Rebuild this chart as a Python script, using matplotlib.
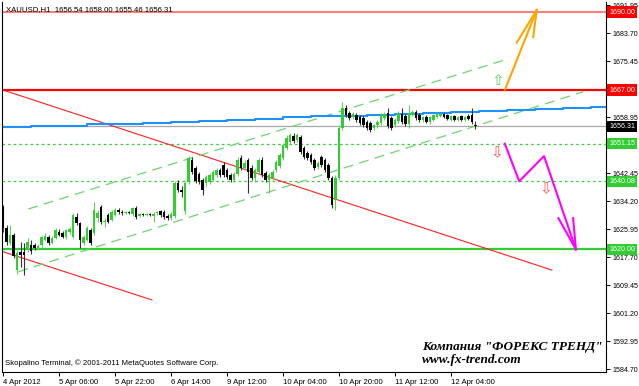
import matplotlib
matplotlib.use("Agg")
import matplotlib.pyplot as plt
import matplotlib.transforms as mtransforms

# XAUUSD H1 candles, 4 Apr 2012 -> 12 Apr 2012
o = [1632.5, 1626.3, 1621.9, 1624.2, 1613.9, 1619.2, 1619.2, 1619.8, 1621.3, 1621.3,
     1620.4, 1621.3, 1622.8, 1623.6, 1621.9, 1623.4, 1625.1, 1624.8, 1623.6, 1625.1,
     1623.6, 1629.5, 1627.8, 1621.9, 1622.8, 1625.7, 1624.8, 1629.3, 1632.5, 1628.1,
     1630.1, 1628.7, 1630.1, 1631.6, 1631.0, 1630.7, 1631.0, 1630.4, 1632.2, 1629.8,
     1630.4, 1630.1, 1630.4, 1629.8, 1630.7, 1631.3, 1631.0, 1629.8, 1629.3, 1629.8,
     1639.6, 1637.5, 1631.3, 1639.9, 1646.4, 1644.0, 1642.2, 1640.5, 1639.6, 1639.9,
     1640.5, 1641.9, 1643.4, 1644.9, 1643.4, 1641.9, 1640.5, 1642.2, 1646.9, 1644.0,
     1646.4, 1644.0, 1641.1, 1642.8, 1646.4, 1642.5, 1640.5, 1641.1, 1643.4, 1644.6,
     1646.9, 1649.9, 1651.7, 1653.4, 1652.3, 1653.1, 1649.9, 1648.4, 1647.8, 1646.4,
     1644.3, 1647.2, 1646.4, 1644.9, 1641.1, 1634.6, 1641.1, 1655.8, 1661.7, 1660.2,
     1659.1, 1659.6, 1659.1, 1658.8, 1657.6, 1657.3, 1655.8, 1656.7, 1657.3, 1658.8,
     1660.2, 1658.8, 1656.7, 1657.9, 1659.9, 1659.3, 1657.0, 1659.6, 1660.5, 1659.6,
     1658.2, 1659.1, 1657.6, 1658.2, 1659.1, 1659.3, 1659.9, 1659.6, 1658.2, 1659.3,
     1658.2, 1659.3, 1658.2, 1659.3, 1659.6, 1656.54]
h = [1633.1, 1627.2, 1627.2, 1624.8, 1619.8, 1622.2, 1621.9, 1623.4, 1622.8, 1621.9,
     1621.6, 1623.9, 1624.8, 1624.2, 1623.9, 1626.3, 1626.0, 1625.4, 1626.0, 1626.6,
     1630.7, 1630.7, 1628.1, 1624.2, 1626.9, 1626.3, 1634.0, 1631.6, 1633.1, 1629.3,
     1630.7, 1631.6, 1632.2, 1632.2, 1631.6, 1631.3, 1631.3, 1632.5, 1632.8, 1630.7,
     1630.7, 1630.7, 1630.7, 1631.0, 1631.3, 1631.6, 1631.6, 1630.4, 1631.0, 1640.2,
     1640.5, 1638.7, 1640.2, 1647.5, 1647.2, 1644.6, 1642.8, 1641.1, 1641.9, 1642.5,
     1643.4, 1644.0, 1644.0, 1645.8, 1644.0, 1642.5, 1642.8, 1647.2, 1647.8, 1646.4,
     1646.9, 1644.9, 1644.0, 1646.9, 1647.2, 1643.1, 1642.5, 1643.4, 1646.4, 1648.4,
     1651.4, 1653.7, 1654.3, 1654.3, 1654.3, 1653.7, 1650.5, 1649.0, 1648.4, 1646.9,
     1646.1, 1647.8, 1646.9, 1645.5, 1641.6, 1641.9, 1656.7, 1663.5, 1662.6, 1660.8,
     1660.5, 1660.2, 1659.6, 1659.3, 1658.2, 1657.9, 1657.0, 1658.2, 1660.2, 1660.5,
     1661.7, 1659.3, 1658.8, 1660.8, 1661.7, 1659.9, 1662.6, 1661.1, 1661.1, 1660.2,
     1659.3, 1659.6, 1659.3, 1659.9, 1660.2, 1660.2, 1660.2, 1659.9, 1659.6, 1659.6,
     1659.3, 1659.6, 1659.3, 1659.9, 1661.7, 1658.00]
l = [1625.1, 1621.3, 1621.3, 1617.5, 1612.7, 1614.8, 1612.4, 1619.2, 1618.6, 1619.8,
     1619.8, 1620.7, 1622.5, 1621.3, 1621.6, 1623.1, 1623.9, 1623.4, 1623.1, 1624.5,
     1623.4, 1627.2, 1620.4, 1621.3, 1622.5, 1621.3, 1624.2, 1628.1, 1627.5, 1626.6,
     1627.8, 1628.4, 1629.8, 1630.4, 1630.1, 1630.4, 1630.4, 1629.8, 1629.0, 1629.5,
     1629.8, 1629.8, 1629.8, 1628.1, 1630.1, 1629.5, 1629.0, 1628.7, 1628.7, 1629.3,
     1636.9, 1635.4, 1630.4, 1639.3, 1642.2, 1639.6, 1639.3, 1636.0, 1638.7, 1639.3,
     1640.2, 1641.3, 1641.3, 1641.3, 1640.7, 1639.9, 1639.9, 1641.6, 1643.4, 1643.4,
     1636.6, 1640.5, 1639.9, 1642.2, 1641.3, 1639.9, 1636.6, 1640.5, 1642.8, 1644.0,
     1646.4, 1649.3, 1651.1, 1651.4, 1651.7, 1648.1, 1646.7, 1646.4, 1645.2, 1643.4,
     1643.7, 1644.3, 1642.8, 1640.5, 1632.2, 1631.6, 1640.5, 1655.2, 1659.1, 1658.2,
     1658.5, 1657.6, 1656.7, 1656.1, 1655.2, 1654.6, 1655.2, 1655.8, 1656.7, 1658.2,
     1655.8, 1655.2, 1656.1, 1657.3, 1657.0, 1656.4, 1655.8, 1659.3, 1658.2, 1657.6,
     1657.6, 1657.3, 1657.0, 1657.9, 1658.8, 1659.1, 1658.8, 1658.2, 1657.9, 1657.9,
     1657.9, 1657.9, 1657.9, 1658.2, 1657.0, 1655.46]
c = [1626.3, 1622.2, 1624.2, 1618.0, 1618.9, 1618.3, 1618.3, 1622.2, 1619.5, 1620.4,
     1621.0, 1623.6, 1623.9, 1621.9, 1623.4, 1625.7, 1624.2, 1623.6, 1625.7, 1626.0,
     1630.1, 1627.8, 1622.8, 1623.6, 1626.3, 1621.9, 1631.6, 1630.7, 1628.1, 1628.4,
     1628.1, 1631.0, 1631.6, 1631.0, 1630.7, 1631.0, 1630.7, 1632.2, 1629.5, 1630.4,
     1630.1, 1630.4, 1630.1, 1630.4, 1631.0, 1630.1, 1629.5, 1629.3, 1630.4, 1639.6,
     1637.5, 1636.9, 1639.6, 1646.9, 1642.8, 1640.2, 1639.9, 1637.5, 1641.3, 1641.9,
     1642.8, 1643.4, 1641.9, 1641.9, 1641.3, 1640.5, 1642.2, 1646.4, 1644.0, 1645.5,
     1642.8, 1641.1, 1643.4, 1646.4, 1641.9, 1640.5, 1641.9, 1642.8, 1645.8, 1647.8,
     1650.8, 1652.9, 1653.7, 1652.0, 1653.7, 1648.7, 1647.2, 1646.9, 1645.8, 1644.0,
     1645.5, 1644.9, 1643.4, 1641.1, 1633.1, 1641.1, 1655.8, 1661.7, 1659.6, 1658.8,
     1659.9, 1658.2, 1657.3, 1656.7, 1655.8, 1655.2, 1656.7, 1657.6, 1659.6, 1659.9,
     1656.4, 1655.8, 1658.2, 1660.2, 1657.6, 1657.0, 1660.2, 1660.5, 1658.8, 1658.2,
     1659.1, 1657.6, 1659.1, 1659.6, 1659.9, 1659.9, 1659.1, 1658.5, 1659.3, 1658.2,
     1659.1, 1658.2, 1659.1, 1658.5, 1657.6, 1656.31]

# blue moving line (bar index, price)
blue_x = [0, 8, 16, 24, 32, 40, 48, 56, 64, 72, 80, 88, 96, 104, 112, 120, 128,
          136, 144, 152, 160, 168, 173]
blue_y = [1656.0, 1656.3, 1656.5, 1656.9, 1657.1, 1657.4, 1657.7, 1658.0, 1658.3,
          1658.6, 1658.9, 1659.2, 1659.4, 1659.7, 1660.0, 1660.3, 1660.6, 1660.9,
          1661.2, 1661.5, 1661.8, 1662.1, 1662.3]

# x axis labels every 16 bars
xtick_idx = [0, 16, 32, 48, 64, 80, 96, 112, 128]
xtick_lbl = ["4 Apr 2012", "5 Apr 06:00", "5 Apr 22:00", "6 Apr 14:00", "9 Apr 12:00",
             "10 Apr 04:00", "10 Apr 20:00", "11 Apr 12:00", "12 Apr 04:00"]
ytick_vals = [1691.95, 1683.70, 1675.45, 1658.95, 1642.45, 1634.20, 1625.95,
              1617.70, 1609.45, 1601.20, 1592.95, 1584.70]

# trend lines: (x0, y0, x1, y1)
red_trend = [0, 1667.0, 156.8, 1613.9]
red_trend2 = [0, 1619.3, 42.5, 1605.1]
chan_up = [7.2, 1631.9, 142.8, 1675.7]
chan_lo = [4.4, 1613.4, 165.8, 1666.5]

orange_x = [143.4, 152.5]
orange_y = [1667.0, 1690.6]
orange_barbs = [(146.8, 1681.0), (151.5, 1682.6)]
magenta_x = [143.4, 147.5, 154.6, 163.7]
magenta_y = [1651.15, 1640.08, 1647.5, 1620.0]
magenta_barbs = [(158.7, 1629.2), (162.9, 1629.2)]

levels = [1690.00, 1667.00, 1656.31, 1651.15, 1640.08, 1620.00]
level_col = ["#ff0000", "#ff0000", "#000000", "#32cd32", "#32cd32", "#32cd32"]

plt.rcParams['font.family'] = ['Liberation Sans', 'DejaVu Sans']

fig = plt.figure(figsize=(6.39, 3.86), dpi=100)
ax = fig.add_axes([2 / 639, 14 / 386, 604 / 639, 370 / 386])
ax.set_xlim(-0.3, 172.3)
ax.set_ylim(1583.82, 1692.97)

# horizontal levels
ax.axhline(1690.00, color="#ff7f7f", lw=1.5, zorder=1)
ax.axhline(1667.00, color="#ff0000", lw=1.6, zorder=1)
ax.axhline(1656.31, color="#a8a8a8", lw=0.9, zorder=1)
ax.axhline(1651.15, color="#32cd32", lw=0.9, ls=(0, (2, 2.5)), zorder=1)
ax.axhline(1640.08, color="#32cd32", lw=0.9, ls=(0, (2, 2.5)), zorder=1)
ax.axhline(1620.00, color="#32cd32", lw=1.6, zorder=1)

# trend lines and channel
for ln in [red_trend, red_trend2]:
    ax.plot([ln[0], ln[2]], [ln[1], ln[3]], color="#ff2020", lw=0.8, zorder=2)
for ln in [chan_up, chan_lo]:
    ax.plot([ln[0], ln[2]], [ln[1], ln[3]], color="#6ed66e", lw=0.9,
            ls=(0, (8, 5)), zorder=2)

ax.plot(blue_x, blue_y, color="#1e90ff", lw=1.5, drawstyle="steps-post", zorder=2)

# candles
idx = list(range(len(c)))
up = [ci >= oi for oi, ci in zip(o, c)]
wick_col = ["#66cc66" if u else "#333333" for u in up]
body_col = ["#32cd32" if u else "#000000" for u in up]
ax.vlines(idx, l, h, colors=wick_col, lw=0.8, zorder=3)
ax.bar(idx, [max(abs(ci - oi), 0.3) for oi, ci in zip(o, c)],
       bottom=[min(oi, ci) for oi, ci in zip(o, c)],
       width=0.75, color=body_col, linewidth=0, zorder=4)

# forecast arrows
ax.plot(orange_x, orange_y, color="#ffa500", lw=1.5, zorder=5)
for bx, by in orange_barbs:
    ax.plot([bx, orange_x[-1]], [by, orange_y[-1]], color="#ffa500", lw=1.5, zorder=5)
ax.plot(magenta_x, magenta_y, color="#ff00ff", lw=1.5, zorder=5)
for bx, by in magenta_barbs:
    ax.plot([bx, magenta_x[-1]], [by, magenta_y[-1]], color="#ff00ff", lw=1.5, zorder=5)

ax.text(141.5, 1669.9, "\u21e7", color="#5fcf5f", fontsize=11, ha="center",
        va="center", family="DejaVu Sans", zorder=5)
ax.text(141.1, 1648.5, "\u21e9", color="#ff5050", fontsize=11, ha="center",
        va="center", family="DejaVu Sans", zorder=5)
ax.text(155.1, 1637.8, "\u21e9", color="#ff5050", fontsize=11, ha="center",
        va="center", family="DejaVu Sans", zorder=5)

# axes styling
ax.spines["top"].set_visible(False)
for s in ["left", "right", "bottom"]:
    ax.spines[s].set_linewidth(0.8)
ax.yaxis.tick_right()
ax.set_yticks(ytick_vals)
ax.set_yticklabels(["%.2f" % v for v in ytick_vals])
ax.set_xticks(xtick_idx)
ax.set_xticklabels(xtick_lbl)
for t in ax.get_xticklabels():
    t.set_ha("left")
ax.tick_params(axis="x", labelsize=5.6, length=3, width=0.7, pad=2)
ax.tick_params(axis="y", labelsize=5.1, length=3, width=0.7, pad=1.5)

# right side price boxes
trans = mtransforms.blended_transform_factory(ax.transAxes, ax.transData)
trans = mtransforms.offset_copy(trans, fig=fig, x=3, y=0, units="dots")
for lv, col in zip(levels, level_col):
    ax.text(1.0, lv, "%.2f" % lv, transform=trans, color="white", fontsize=5.1,
            ha="left", va="center", clip_on=False, zorder=6,
            bbox=dict(boxstyle="square,pad=0.3", fc=col, ec="none"))

ax.text(4 / 604, 1 - 8 / 370, "XAUUSD,H1  1656.54 1658.00 1655.46 1656.31",
        transform=ax.transAxes, fontsize=5.6, va="center", ha="left")
ax.text(3 / 604, 9 / 370, "Skopalino Terminal, \u00a9 2001-2011 MetaQuotes Software Corp.",
        transform=ax.transAxes, fontsize=5.6, va="center", ha="left")
ax.text(420 / 604, 25 / 370, "\u041a\u043e\u043c\u043f\u0430\u043d\u0438\u044f \"\u0424\u041e\u0420\u0415\u041a\u0421 \u0422\u0420\u0415\u041d\u0414\"",
        transform=ax.transAxes, fontsize=9.5, family="Liberation Serif",
        weight="bold", style="italic", va="center", ha="left")
ax.text(420 / 604, 12 / 370, "www.fx-trend.com",
        transform=ax.transAxes, fontsize=9.5, family="Liberation Serif",
        weight="bold", style="italic", va="center", ha="left")

fig.savefig("out.png", dpi=100, facecolor="white")
